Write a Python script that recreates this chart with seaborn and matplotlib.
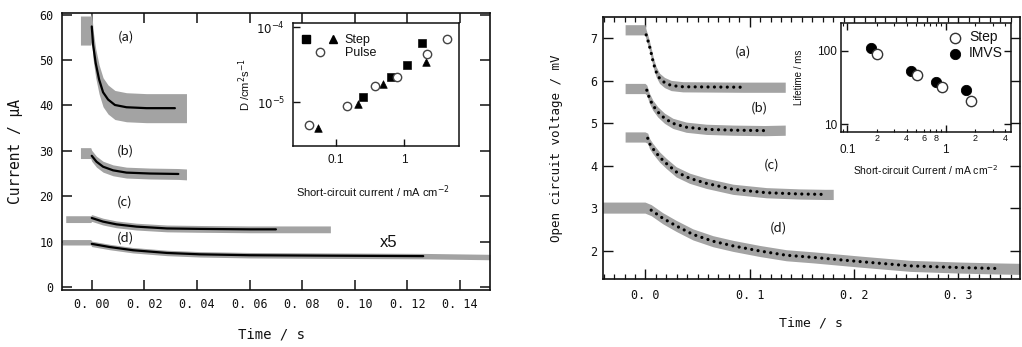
import matplotlib
matplotlib.use('Agg')
import matplotlib.pyplot as plt
import matplotlib.ticker as mticker
from matplotlib.legend_handler import HandlerTuple
from matplotlib.lines import Line2D
import numpy as np
import seaborn as sns

sns.set_theme(style='ticks', rc={'axes.edgecolor': '#111', 'xtick.color': '#111', 'ytick.color': '#111',
                                 'text.color': '#111', 'axes.labelcolor': '#111'})
plt.rcParams['font.family'] = ['DejaVu Sans Mono', 'DejaVu Sans']
plt.rcParams['mathtext.fontset'] = 'dejavusans'

# ---------- left panel: short-circuit current transients ----------
cur_labels = ['(a)', '(b)', '(c)', '(d)']
# fitted curves (black)
cur_fit_t = [
    [0, 0.0005, 0.0015, 0.0028, 0.0043, 0.0062, 0.0088, 0.0132, 0.0208, 0.0316],
    [0, 0.0018, 0.0043, 0.0081, 0.0132, 0.0221, 0.0329],
    [0, 0.0043, 0.0094, 0.017, 0.0286, 0.0411, 0.0602, 0.07],
    [0, 0.0069, 0.0157, 0.0286, 0.041, 0.06, 0.09, 0.126],
]
cur_fit_v = [
    [57.4, 53.4, 49.3, 45.7, 42.9, 41.3, 40.1, 39.6, 39.4, 39.4],
    [28.9, 27.6, 26.5, 25.7, 25.2, 25.0, 24.9],
    [15.2, 14.4, 13.8, 13.3, 12.9, 12.8, 12.7, 12.7],
    [9.5, 8.8, 8.1, 7.5, 7.2, 7.0, 6.9, 6.8],
]
# measured traces (grey band): level before the step, end of record, noise
cur_pre_level = [56.5, 29.5, 14.95, 9.85]
cur_pre_start = [-0.0043, -0.0043, -0.0099, -0.0113]
cur_end_t = [0.036, 0.036, 0.0907, 0.1514]
cur_end_level = [39.4, 24.8, 12.7, 6.6]
cur_noise = [3.2, 1.2, 0.75, 0.6]

# inset: diffusion coefficient vs short-circuit current
step_sq_x = [0.253, 0.632, 1.11, 1.83]
step_sq_y = [1.19e-5, 2.15e-5, 3.15e-5, 6.12e-5]
step_tri_x = [0.056, 0.214, 0.494, 2.05]
step_tri_y = [4.6e-6, 9.5e-6, 1.74e-5, 3.48e-5]
pulse_x = [0.041, 0.145, 0.374, 0.773, 2.11, 4.14]
pulse_y = [4.99e-6, 8.9e-6, 1.65e-5, 2.2e-5, 4.41e-5, 6.99e-5]

# ---------- right panel: open-circuit voltage transients ----------
vol_labels = ['(a)', '(b)', '(c)', '(d)']
vol_fit_t = [
    [0.0007, 0.0032, 0.0055, 0.0077, 0.0103, 0.0135, 0.0183, 0.0247, 0.0359, 0.0936],
    [0.0013, 0.0038, 0.007, 0.0118, 0.0183, 0.0263, 0.0391, 0.0584, 0.084, 0.1144],
    [0.0022, 0.0038, 0.007, 0.0135, 0.0199, 0.0295, 0.0423, 0.0584, 0.084, 0.116, 0.148, 0.172],
    [0.0055, 0.0166, 0.0295, 0.0455, 0.0647, 0.084, 0.1096, 0.135, 0.161, 0.206, 0.254, 0.302, 0.336],
]
vol_fit_v = [
    [7.08, 6.88, 6.65, 6.41, 6.21, 6.06, 5.96, 5.89, 5.86, 5.85],
    [5.78, 5.59, 5.43, 5.27, 5.12, 5.0, 4.91, 4.86, 4.84, 4.83],
    [4.65, 4.53, 4.41, 4.21, 4.06, 3.86, 3.71, 3.59, 3.45, 3.37, 3.34, 3.33],
    [2.96, 2.77, 2.59, 2.39, 2.23, 2.12, 2.0, 1.90, 1.85, 1.75, 1.65, 1.61, 1.59],
]
vol_pre_level = [7.2, 5.82, 4.68, 3.02]
vol_pre_start = [-0.0195, -0.0195, -0.0195, -0.041]
vol_end_t = [0.134, 0.134, 0.18, 0.359]
vol_end_level = [5.85, 4.84, 3.33, 1.58]
vol_noise = [0.12, 0.12, 0.12, 0.13]

# inset: lifetime vs short-circuit current
imvs_x = [0.174, 0.441, 0.791, 1.60]
imvs_y = [111, 53.2, 38.0, 29.3]
step_x = [0.199, 0.507, 0.925, 1.81]
step_y = [90, 46.9, 31.8, 20.9]

GREY = '#a3a3a3'
mono_font = ['DejaVu Sans Mono', 'DejaVu Sans']
main_font = ['Noto Sans CJK JP', 'DejaVu Sans']
inset_font = ['Liberation Sans', 'DejaVu Sans']


def grey_band(ax, pre_start, pre, t, v, end_t, end_v, noise):
    tt = np.array([pre_start, -0.0004] + t + [end_t])
    vv = np.array([pre, pre] + v + [end_v])
    ax.fill_between(tt, vv - noise, vv + noise, color=GREY, lw=0)


fig = plt.figure(figsize=(10.22, 3.47), dpi=100)

# ---- left main
ax1 = fig.add_axes([0.0607, 0.1643, 0.4188, 0.7983])
for i in range(4):
    grey_band(ax1, cur_pre_start[i], cur_pre_level[i], cur_fit_t[i], cur_fit_v[i],
              cur_end_t[i], cur_end_level[i], cur_noise[i])
    sns.lineplot(x=cur_fit_t[i], y=cur_fit_v[i], ax=ax1, color='black', lw=1.6)
for lab, (tx, ty) in zip(cur_labels, [(0.013, 55), (0.0126, 30), (0.0126, 18.8), (0.0126, 10.8)]):
    ax1.text(tx, ty, lab, fontsize=9.5, ha='center', va='center', family=main_font)
ax1.text(0.1128, 9.9, 'x5', fontsize=12, ha='center', va='center', family=inset_font)
ax1.set_xlim(-0.0113, 0.1514)
ax1.set_ylim(-0.66, 60.37)
xt = np.arange(0, 0.141, 0.02)
ax1.set_xticks(xt)
ax1.set_xticklabels([f'{v:.2f}'.replace('.', '. ') for v in xt])
ax1.set_yticks(range(0, 61, 10))
ax1.tick_params(direction='in', length=7, width=1.1, top=True, right=True, labelsize=8.5, pad=6)
for s in ax1.spines.values():
    s.set_linewidth(1.2)
ax1.set_xlabel('Time / s', fontsize=10, family=mono_font)
ax1.set_ylabel('Current / μA', fontsize=10.5, family=mono_font)
ax1.xaxis.set_label_coords(0.49, -0.137)
ax1.yaxis.set_label_coords(-0.091, 0.5)

# ---- left inset
ax2 = fig.add_axes([0.2870, 0.5801, 0.1624, 0.3545])
ax2.set_facecolor('white')
ax2.set_xscale('log')
ax2.set_yscale('log')
sns.scatterplot(x=step_sq_x, y=step_sq_y, ax=ax2, marker='s', color='black', edgecolor='black', s=30)
sns.scatterplot(x=step_tri_x, y=step_tri_y, ax=ax2, marker='^', color='black', edgecolor='black', s=30)
sns.scatterplot(x=pulse_x, y=pulse_y, ax=ax2, marker='o', color='white', edgecolor='#444', linewidth=1, s=36, zorder=3)
ax2.set_xlim(0.0242, 6.32)
ax2.set_ylim(2.64e-6, 1.15e-4)
ax2.xaxis.set_major_locator(mticker.FixedLocator([0.1, 1]))
ax2.xaxis.set_major_formatter(mticker.FixedFormatter(['0.1', '1']))
ax2.yaxis.set_major_locator(mticker.FixedLocator([1e-5, 1e-4]))
ax2.yaxis.set_major_formatter(mticker.FixedFormatter([r'$10^{-5}$', r'$10^{-4}$']))
ax2.xaxis.set_minor_locator(mticker.NullLocator())
ax2.yaxis.set_minor_locator(mticker.NullLocator())
ax2.tick_params(direction='in', length=5, width=1, labelsize=8.5, pad=6)
for s in ax2.spines.values():
    s.set_linewidth(1.1)
for t in ax2.get_xticklabels() + ax2.get_yticklabels():
    t.set_family(inset_font)
ax2.set_xlabel('Short-circuit current / mA cm$^{-2}$', fontsize=8, family=inset_font)
ax2.set_ylabel('D /cm$^{2}$s$^{-1}$', fontsize=8, family=inset_font)
ax2.xaxis.set_label_coords(0.48, -0.303)
ax2.yaxis.set_label_coords(-0.243, 0.5)
h_sq = Line2D([], [], marker='s', color='black', ls='none', ms=5.5)
h_tri = Line2D([], [], marker='^', color='black', ls='none', ms=5.5)
h_circ = Line2D([], [], marker='o', mfc='white', mec='#444', ls='none', ms=6)
ax2.legend([(h_sq, h_tri), h_circ], ['Step', 'Pulse'],
           handler_map={tuple: HandlerTuple(ndivide=None, pad=1.2)},
           loc='upper left', bbox_to_anchor=(0.0, 0.97), frameon=False,
           prop={'family': inset_font, 'size': 9}, handlelength=3.0, handletextpad=0.5,
           labelspacing=0.1, borderaxespad=0.2)

# ---- right main
ax3 = fig.add_axes([0.5897, 0.196, 0.4083, 0.7542])
for i in range(4):
    grey_band(ax3, vol_pre_start[i], vol_pre_level[i], vol_fit_t[i], vol_fit_v[i],
              vol_end_t[i], vol_end_level[i], vol_noise[i])
    sns.lineplot(x=vol_fit_t[i], y=vol_fit_v[i], ax=ax3, color='black', lw=2.3,
                 linestyle=(0, (0.01, 2.0)), dash_capstyle='round')
for lab, (tx, ty) in zip(vol_labels, [(0.0936, 6.68), (0.1096, 5.35), (0.121, 4.02), (0.127, 2.55)]):
    ax3.text(tx, ty, lab, fontsize=9.5, ha='center', va='center', family=main_font)
ax3.set_xlim(-0.041, 0.359)
ax3.set_ylim(1.342, 7.494)
ax3.set_xticks([0, 0.1, 0.2, 0.3])
ax3.set_xticklabels(['0. 0', '0. 1', '0. 2', '0. 3'])
ax3.xaxis.set_minor_locator(mticker.MultipleLocator(0.01))
ax3.set_yticks(range(2, 8))
ax3.tick_params(which='major', direction='in', length=7, width=1, top=True, right=True, labelsize=8.5)
ax3.tick_params(axis='x', which='major', pad=7)
ax3.tick_params(axis='y', which='major', pad=4)
ax3.tick_params(which='minor', direction='in', length=3.5, width=0.9, top=True)
for s in ax3.spines.values():
    s.set_linewidth(1.2)
ax3.set_xlabel('Time / s', fontsize=9.5, family=mono_font)
ax3.set_ylabel('Open circuit voltage / mV', fontsize=9, family=mono_font)
ax3.xaxis.set_label_coords(0.5, -0.145)
ax3.yaxis.set_label_coords(-0.095, 0.5)

# ---- right inset
ax4 = fig.add_axes([0.8229, 0.6205, 0.166, 0.3141])
ax4.set_facecolor('white')
ax4.set_xscale('log')
ax4.set_yscale('log')
sns.scatterplot(x=imvs_x, y=imvs_y, ax=ax4, marker='o', color='black', edgecolor='black', s=55, label='IMVS')
sns.scatterplot(x=step_x, y=step_y, ax=ax4, marker='o', color='white', edgecolor='#333', linewidth=1,
                s=55, zorder=3, label='Step')
ax4.set_xlim(0.0863, 4.57)
ax4.set_ylim(7.85, 244)
ax4.xaxis.set_major_locator(mticker.FixedLocator([0.1, 1]))
ax4.xaxis.set_major_formatter(mticker.FixedFormatter(['0.1', '1']))
ax4.xaxis.set_minor_locator(mticker.LogLocator(base=10, subs=np.arange(2, 10), numticks=10))
ax4.xaxis.set_minor_formatter(mticker.FuncFormatter(
    lambda v, p: f'{v / 10 ** np.floor(np.log10(v) + 1e-9):.0f}'
    if round(v / 10 ** np.floor(np.log10(v) + 1e-9)) in (2, 4, 6, 8) else ''))
ax4.yaxis.set_major_locator(mticker.FixedLocator([10, 100]))
ax4.yaxis.set_major_formatter(mticker.FixedFormatter(['10', '100']))
ax4.yaxis.set_minor_locator(mticker.NullLocator())
ax4.tick_params(which='major', direction='in', length=5, width=1, top=True, right=True, labelsize=8.5)
ax4.tick_params(axis='x', which='major', pad=9)
ax4.tick_params(axis='y', which='major', pad=3)
ax4.tick_params(which='minor', direction='in', length=2.5, width=0.8, top=True, labelsize=6.5, pad=2)
for s in ax4.spines.values():
    s.set_linewidth(1.1)
for t in ax4.get_xticklabels() + ax4.get_yticklabels() + ax4.get_xticklabels(minor=True):
    t.set_family(inset_font)
ax4.set_xlabel('Short-circuit Current / mA cm$^{-2}$', fontsize=7.5, family=inset_font)
ax4.set_ylabel('Lifetime / ms', fontsize=7, family=inset_font)
ax4.xaxis.set_label_coords(0.5, -0.287)
ax4.yaxis.set_label_coords(-0.218, 0.5)
hs, ls = ax4.get_legend_handles_labels()
ax4.legend(hs[::-1], ls[::-1], loc='upper right', frameon=False, prop={'family': inset_font, 'size': 10},
           handletextpad=0.4, labelspacing=0.15, borderaxespad=0.15, handlelength=1.2)

fig.savefig('out.png', dpi=100, facecolor='white')
